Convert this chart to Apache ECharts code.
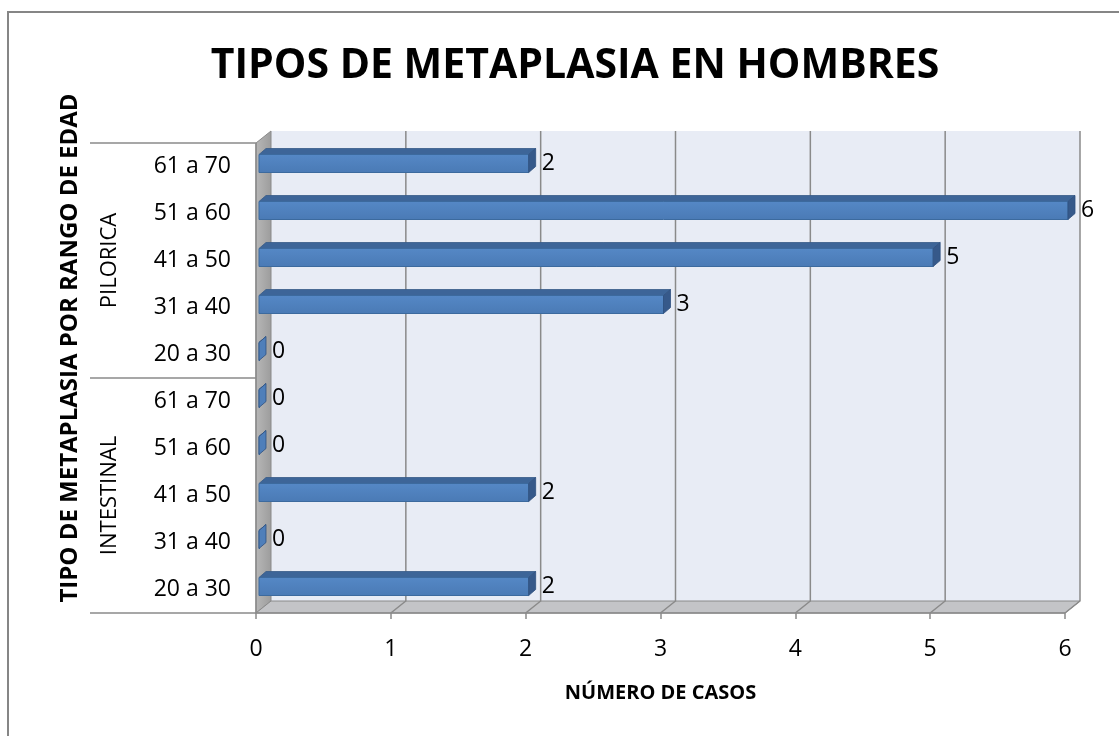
<!DOCTYPE html>
<html>
<head>
<meta charset="utf-8">
<script src="https://cdn.jsdelivr.net/npm/echarts@6/dist/echarts.min.js"></script>
<style>
  html, body { margin: 0; padding: 0; background: #fff; }
  #chart { width: 1119px; height: 736px; }
</style>
</head>
<body>
<div id="chart"></div>
<script>
const groups = ['INTESTINAL', 'PILORICA'];
const ageRanges = ['20 a 30', '31 a 40', '41 a 50', '51 a 60', '61 a 70'];
const intestinal = [2, 0, 2, 0, 0];
const pilorica = [0, 3, 5, 6, 2];
const xTicks = [0, 1, 2, 3, 4, 5, 6];

// categories bottom -> top
const categories = [...ageRanges, ...ageRanges];
const values = [...intestinal, ...pilorica];

// 3D depth offset for walls
const DX = 15, DY = -12;
const FONT = 'Open Sans';

const chart = echarts.init(document.getElementById('chart'));

const renderFrame = (params, api) => {
  const cs = params.coordSys;
  const l = cs.x, t = cs.y, r = cs.x + cs.width, b = cs.y + cs.height;
  const children = [];
  // back wall
  children.push({
    type: 'polygon',
    shape: { points: [[l + DX, t + DY], [r + DX, t + DY], [r + DX, b + DY], [l + DX, b + DY]] },
    style: { fill: '#E8ECF5' }
  });
  // side wall
  children.push({
    type: 'polygon',
    shape: { points: [[l, t], [l + DX, t + DY], [l + DX, b + DY], [l, b]] },
    style: {
      fill: new echarts.graphic.LinearGradient(0, 0, 1, 0, [
        { offset: 0, color: '#B8B8B8' }, { offset: 1, color: '#9C9C9C' }
      ]),
      stroke: '#8A8A8A', lineWidth: 1
    }
  });
  // floor
  children.push({
    type: 'polygon',
    shape: { points: [[l, b], [l + DX, b + DY], [r + DX, b + DY], [r, b]] },
    style: { fill: '#C3C4C7', stroke: '#8A8A8A', lineWidth: 1 }
  });
  // grid lines on back wall and floor
  xTicks.forEach(v => {
    if (v === 0) return;
    const x = api.coord([v, 0])[0];
    children.push({
      type: 'polyline',
      shape: { points: [[x + DX, t + DY], [x + DX, b + DY], [x, b]] },
      style: { stroke: '#8A8A8A', lineWidth: 1.5, fill: null }
    });
  });
  // front edges
  children.push({
    type: 'polyline',
    shape: { points: [[l, t], [l, b], [r, b]] },
    style: { stroke: '#8A8A8A', lineWidth: 1.5, fill: null }
  });
  return { type: 'group', children };
};

const renderBar = (params, api) => {
  const val = api.value(0);
  const idx = api.value(1);
  const s = api.coord([0, idx]);
  const e = api.coord([val, idx]);
  const x0 = s[0] + 3, x1 = e[0] + 3, yc = s[1];
  const ft = yc - 12, fb = yc + 6;
  const bx = 7, by = -6;
  return {
    type: 'group',
    children: [
      {
        type: 'polygon',
        shape: { points: [[x0, ft], [x0 + bx, ft + by], [x1 + bx, ft + by], [x1, ft]] },
        style: { fill: '#3D6598', stroke: '#365A88', lineWidth: 0.8 }
      },
      {
        type: 'rect',
        shape: { x: x0, y: ft, width: Math.max(x1 - x0, 0.5), height: fb - ft },
        style: {
          fill: new echarts.graphic.LinearGradient(0, 0, 0, 1, [
            { offset: 0, color: '#5588C6' }, { offset: 1, color: '#4A7AB5' }
          ]),
          stroke: '#3C6A9E', lineWidth: 1
        }
      },
      {
        type: 'polygon',
        shape: { points: [[x1, ft], [x1 + bx, ft + by], [x1 + bx, fb + by], [x1, fb]] },
        style: { fill: val === 0 ? '#4F7FBA' : '#36598A', stroke: '#2F5080', lineWidth: 0.8 }
      },
      {
        type: 'text',
        style: {
          text: String(val), x: x1 + bx + 6, y: yc - 3,
          fill: '#000', font: '23px "' + FONT + '"',
          textAlign: 'left', textVerticalAlign: 'middle'
        }
      }
    ]
  };
};

const option = {
  backgroundColor: '#fff',
  animation: false,
  title: {
    text: 'TIPOS DE METAPLASIA EN HOMBRES',
    left: 570,
    textAlign: 'center',
    top: 41,
    textStyle: { fontFamily: FONT, fontWeight: 'bold', fontSize: 41, color: '#000' }
  },
  graphic: [
    {
      type: 'rect',
      shape: { x: 8, y: 12, width: 1200, height: 800 },
      style: { fill: null, stroke: '#868686', lineWidth: 2 },
      silent: true
    },
    {
      type: 'text',
      x: 70, y: 348,
      rotation: Math.PI / 2,
      style: {
        text: 'TIPO DE METAPLASIA POR RANGO DE EDAD',
        font: 'bold 24px "' + FONT + '"',
        fill: '#000', textAlign: 'center', textVerticalAlign: 'middle'
      }
    }
  ],
  grid: { left: 256, right: 54, top: 143, bottom: 123, outerBoundsMode: 'none' },
  xAxis: {
    type: 'value',
    min: 0, max: 6, interval: 1,
    axisLine: { show: false },
    axisTick: { show: true, length: 6, lineStyle: { color: '#8A8A8A', width: 1.5 } },
    splitLine: { show: false },
    axisLabel: { fontFamily: FONT, fontSize: 23, color: '#000', margin: 25 },
    name: 'NÚMERO DE CASOS',
    nameLocation: 'middle',
    nameGap: 70,
    nameTextStyle: { fontFamily: FONT, fontWeight: 'bold', fontSize: 20, color: '#000' }
  },
  yAxis: [
    {
      type: 'category',
      data: categories,
      axisLine: { show: false },
      axisTick: { show: false },
      splitLine: { show: false },
      axisLabel: { fontFamily: FONT, fontSize: 23, color: '#000', margin: 25, interval: 0 }
    },
    {
      type: 'category',
      data: groups,
      position: 'left',
      offset: 0,
      axisLine: { show: false },
      axisTick: { show: true, interval: 0, length: 166, lineStyle: { color: '#8A8A8A', width: 1.5 } },
      splitLine: { show: false },
      axisLabel: { fontFamily: FONT, fontSize: 22, color: '#000', rotate: 90, margin: 135, interval: 0 }
    }
  ],
  series: [
    {
      type: 'custom',
      name: 'frame',
      renderItem: renderFrame,
      data: [[0, 0]],
      clip: false,
      silent: true,
      z: 1
    },
    {
      type: 'custom',
      name: 'casos',
      renderItem: renderBar,
      encode: { x: 0, y: 1 },
      data: values.map((v, i) => [v, i]),
      clip: false,
      z: 3
    }
  ]
};

chart.setOption(option);
</script>
</body>
</html>
